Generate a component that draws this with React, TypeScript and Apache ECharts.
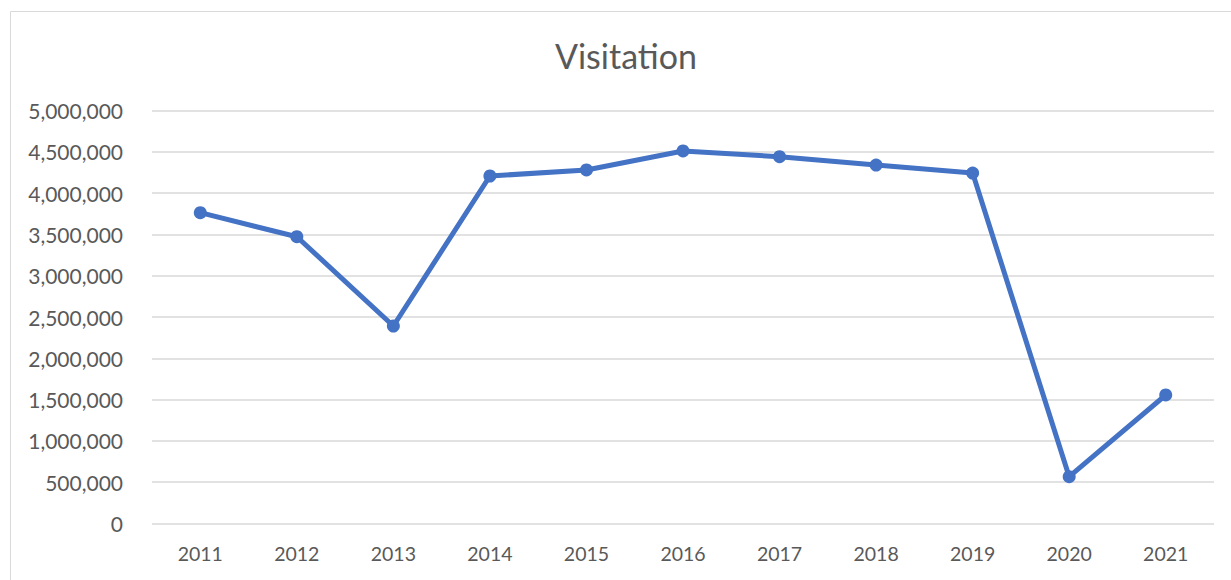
import React, { useEffect, useRef } from "react";
import * as echarts from "echarts";

const years = ["2011", "2012", "2013", "2014", "2015", "2016", "2017", "2018", "2019", "2020", "2021"];
const visitation = [3763000, 3472000, 2391000, 4207000, 4280000, 4510000, 4441000, 4340000, 4243000, 567000, 1556000];
const titleText = "Visitation";
const yMin = 0;
const yMax = 5000000;
const yStep = 500000;

export default function App() {
  const ref = useRef<HTMLDivElement>(null);
  useEffect(() => {
    if (!ref.current) return;
    const chart = echarts.init(ref.current, null, { renderer: "svg" });
    const font = "Lato, 'Open Sans', sans-serif";
    chart.setOption({
      animation: false,
      backgroundColor: "#ffffff",
      graphic: [
        {
          type: "rect",
          shape: { x: 10.5, y: 11.5, width: 1240, height: 600 },
          style: { fill: "none", stroke: "#d9d9d9", lineWidth: 1 },
          silent: true,
        },
        {
          type: "text",
          x: 626,
          y: 55,
          style: {
            text: titleText,
            fill: "#595959",
            font: `34px ${font}`,
            textAlign: "center",
            textVerticalAlign: "middle",
          },
        },
      ],
      grid: { left: 152, right: 17, top: 110.5, bottom: 56.5, containLabel: false },
      xAxis: {
        type: "category",
        data: years,
        boundaryGap: true,
        axisLine: { show: false },
        axisTick: { show: false },
        axisLabel: { color: "#595959", fontSize: 19.5, fontFamily: font, margin: 20 },
      },
      yAxis: {
        type: "value",
        min: yMin,
        max: yMax,
        interval: yStep,
        axisLine: { show: false },
        axisTick: { show: false },
        splitLine: { lineStyle: { color: "#d9d9d9", width: 1.5 } },
        axisLabel: {
          color: "#595959",
          fontSize: 21,
          fontFamily: font,
          margin: 29,
          formatter: (v: number) => v.toLocaleString("en-US"),
        },
      },
      series: [
        {
          type: "line",
          data: visitation,
          symbol: "circle",
          symbolSize: 13,
          lineStyle: { color: "#4472C4", width: 5 },
          itemStyle: { color: "#4472C4" },
        },
      ],
    });
    return () => chart.dispose();
  }, []);
  return <div ref={ref} style={{ position: "fixed", left: 0, top: 0, width: 1231, height: 580 }} />;
}
